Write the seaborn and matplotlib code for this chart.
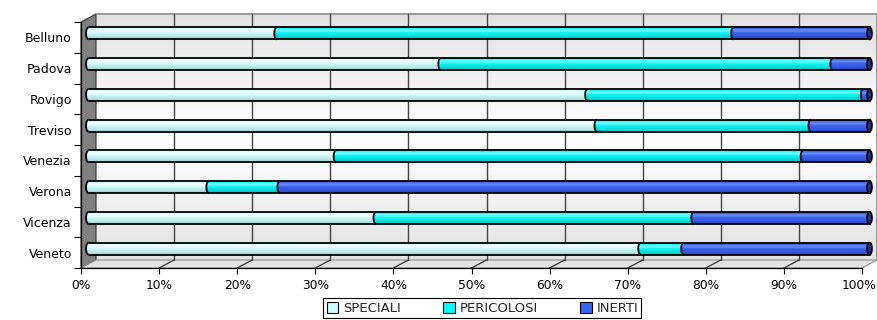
import numpy as np
import matplotlib
matplotlib.use("Agg")
import matplotlib.pyplot as plt
import seaborn as sns
from matplotlib.transforms import ScaledTranslation, IdentityTransform
from matplotlib.patches import Polygon, Ellipse, Patch
from matplotlib.lines import Line2D
from matplotlib.path import Path
from matplotlib.colors import to_rgb

# ---- data (percent of total per province) ----
province = ["Belluno", "Padova", "Rovigo", "Treviso", "Venezia", "Verona", "Vicenza", "Veneto"]
speciali = [24.1, 45.1, 63.9, 65.1, 31.7, 15.4, 36.8, 70.7]
pericolosi = [58.5, 50.2, 35.3, 27.4, 59.8, 9.1, 40.7, 5.5]
inerti = [17.4, 4.7, 0.8, 7.5, 8.5, 75.5, 22.5, 23.8]
series_names = ["SPECIALI", "PERICOLOSI", "INERTI"]
tick_values = list(range(0, 101, 10))
tick_labels = [f"{v}%" for v in tick_values]

# ---- style ----
base_colors = ["#ccffff", "#00ffff", "#3366ff"]
shades = [
    [(0, "#c0eeee"), (0.1, "#d8ffff"), (0.3, "#f2ffff"), (0.45, "#d2fafa"), (0.8, "#b6e4e4"), (1, "#98caca")],
    [(0, "#00e0e0"), (0.1, "#1cffff"), (0.3, "#80ffff"), (0.45, "#10f6f6"), (0.8, "#00dada"), (1, "#00b4b4")],
    [(0, "#2a4cd0"), (0.1, "#4068f0"), (0.3, "#7090ff"), (0.45, "#3c62ee"), (0.8, "#3358e0"), (1, "#1f3eae")],
]
cap_color = "#1a3596"
BAR_H = 0.39          # bar thickness in category units
CAP_W = 0.62          # horizontal size of the cylinder end faces (x units)
DEPTH = (15, 8)       # pixel offset of the back wall
W, H, DPI = 877, 320, 100

sns.set_theme(style="white")
plt.rcParams["font.family"] = ["DejaVu Sans"]

fig = plt.figure(figsize=(W / DPI, H / DPI), dpi=DPI)
fig.patch.set_facecolor("white")
ax = fig.add_axes([81 / W, 52 / H, 781 / W, 246 / H])
ax.set_facecolor("none")

back = ax.transData + ScaledTranslation(DEPTH[0] / DPI, DEPTH[1] / DPI, fig.dpi_scale_trans)
mid = ax.transData + ScaledTranslation(DEPTH[0] / 2 / DPI, DEPTH[1] / 2 / DPI, fig.dpi_scale_trans)

# ---- stacked bars ----
values = [np.array(speciali), np.array(pericolosi), np.array(inerti)]
left = np.zeros(len(province))
segments = []
for k, vals in enumerate(values):
    sns.barplot(x=left + vals, y=province, orient="h", color=base_colors[k],
                saturation=1, width=BAR_H, ax=ax, zorder=2)
    bars = ax.containers[-1]
    for p, l, v in zip(bars.patches, left, vals):
        p.set_x(l)
        p.set_width(v)
        p.set_transform(mid)
        p.set_edgecolor("none")
        p.set_clip_on(False)
    segments.append((left.copy(), left + vals))
    left = left + vals

ax.set_xlim(0, 100)
ax.set_ylim(7.5, -0.5)
ax.set_autoscale_on(False)
ax.set_xlabel("")
ax.set_ylabel("")


def gradient(stops, n=60):
    pos = np.linspace(0, 1, n)
    sp = [s[0] for s in stops]
    cols = np.array([to_rgb(s[1]) for s in stops])
    img = np.stack([np.interp(pos, sp, cols[:, c]) for c in range(3)], axis=-1)
    return img[:, None, :]


def half_ellipse(xc, yc, n=24):
    th = np.linspace(np.pi / 2, 3 * np.pi / 2, n)
    return np.column_stack([xc + CAP_W / 2 * np.cos(th), yc - BAR_H / 2 * np.sin(th)])


# cylinder shading for every segment, left to right so each rounded start overlaps its neighbour
for k, (starts, ends) in enumerate(segments):
    img = gradient(shades[k])
    for i, (xs, xe) in enumerate(zip(starts, ends)):
        top, bot = i - BAR_H / 2, i + BAR_H / 2
        arc = half_ellipse(xs, i)
        verts = np.vstack([arc, [[xe, bot], [xe, top], arc[0]]])
        codes = [Path.MOVETO] + [Path.LINETO] * (len(verts) - 2) + [Path.CLOSEPOLY]
        clip = Path(verts, codes)
        im = ax.imshow(img, extent=(xs - CAP_W / 2, xe, bot, top), aspect="auto",
                       interpolation="bilinear", transform=mid, zorder=3 + k)
        im.set_clip_box(fig.bbox)
        im.set_clip_path(clip, mid)
        ax.plot(arc[:, 0], arc[:, 1], color="black", lw=1.3, transform=mid,
                zorder=7, clip_on=False, solid_capstyle="butt")

for i in range(len(province)):
    for yy in (i - BAR_H / 2, i + BAR_H / 2):
        ax.plot([0, 100], [yy, yy], color="black", lw=1.3, transform=mid, zorder=7, clip_on=False)
    ax.add_patch(Ellipse((100, i), CAP_W, BAR_H, facecolor=cap_color, edgecolor="black",
                         lw=1.3, transform=mid, zorder=8, clip_on=False))

# ---- 3D walls ----
wall = np.linspace(0, 1, 200)
wall_v = 0.885 + 0.115 * (1 - np.abs(wall - 0.5) * 2)
wall_img = np.repeat(wall_v[:, None, None], 3, axis=2)
wim = ax.imshow(wall_img, extent=(0, 100, 7.5, -0.5), aspect="auto", transform=back,
                zorder=0.2, interpolation="bilinear", vmin=0, vmax=1)
wim.set_clip_box(fig.bbox)

fr = ax.transData.transform
bk = back.transform
side = [fr((0, -0.5)), bk((0, -0.5)), bk((0, 7.5)), fr((0, 7.5))]
ax.add_patch(Polygon(side, closed=True, facecolor="#808080", edgecolor="#333333", lw=0.8,
                     transform=IdentityTransform(), zorder=0.5, clip_on=False))
floor = [fr((0, 7.5)), bk((0, 7.5)), bk((100, 7.5)), fr((100, 7.5))]
ax.add_patch(Polygon(floor, closed=True, facecolor="#e2e2e2", edgecolor="#909090", lw=0.8,
                     transform=IdentityTransform(), zorder=0.5, clip_on=False))
ax.plot([0, 100, 100], [-0.5, -0.5, 7.5], color="#8a8a8a", lw=1.2, transform=back,
        zorder=0.6, clip_on=False)

for v in tick_values[1:-1]:
    ax.plot([v, v], [7.5, -0.5], color="#444444", lw=1.0, transform=back, zorder=0.7, clip_on=False)
    p0, p1 = fr((v, 7.5)), bk((v, 7.5))
    ax.add_line(Line2D([p0[0], p1[0]], [p0[1], p1[1]], color="#444444", lw=1.0,
                       transform=IdentityTransform(), zorder=0.7, clip_on=False))

# ---- axes ----
for s in ("top", "right"):
    ax.spines[s].set_visible(False)
for s in ("left", "bottom"):
    ax.spines[s].set_color("black")
    ax.spines[s].set_linewidth(0.9)
    ax.spines[s].set_zorder(1)

ax.set_xticks(tick_values)
ax.set_xticklabels(tick_labels)
ax.set_yticks(np.arange(-0.5, len(province), 1))
ax.set_yticklabels([])
ax.set_yticks(range(len(province)), minor=True)
ax.set_yticklabels(province, minor=True)
ax.tick_params(axis="x", which="major", direction="out", length=4, width=0.8, pad=4,
               labelsize=8.8, colors="black", bottom=True)
ax.tick_params(axis="y", which="major", direction="out", length=5, width=0.8, left=True,
               colors="black")
ax.tick_params(axis="y", which="minor", length=0, pad=6.5, labelsize=9, labelcolor="black")

# keep the last percentage label inside the canvas
last = ax.get_xticklabels()[-1]
last.set_horizontalalignment("right")
last.set_transform(last.get_transform() + ScaledTranslation(14 / DPI, 0, fig.dpi_scale_trans))

handles = [Patch(facecolor=c, edgecolor="black", lw=0.8) for c in base_colors]
leg = fig.legend(handles, series_names, loc="lower center", bbox_to_anchor=(0.55, 0.0),
                 ncol=3, frameon=True, fancybox=False, edgecolor="black", framealpha=1,
                 fontsize=9.5, handlelength=0.9, handleheight=0.9, handletextpad=0.35,
                 columnspacing=3.2, borderpad=0.25, borderaxespad=0.15)
leg.get_frame().set_linewidth(0.8)

fig.savefig("out.png", dpi=DPI)
